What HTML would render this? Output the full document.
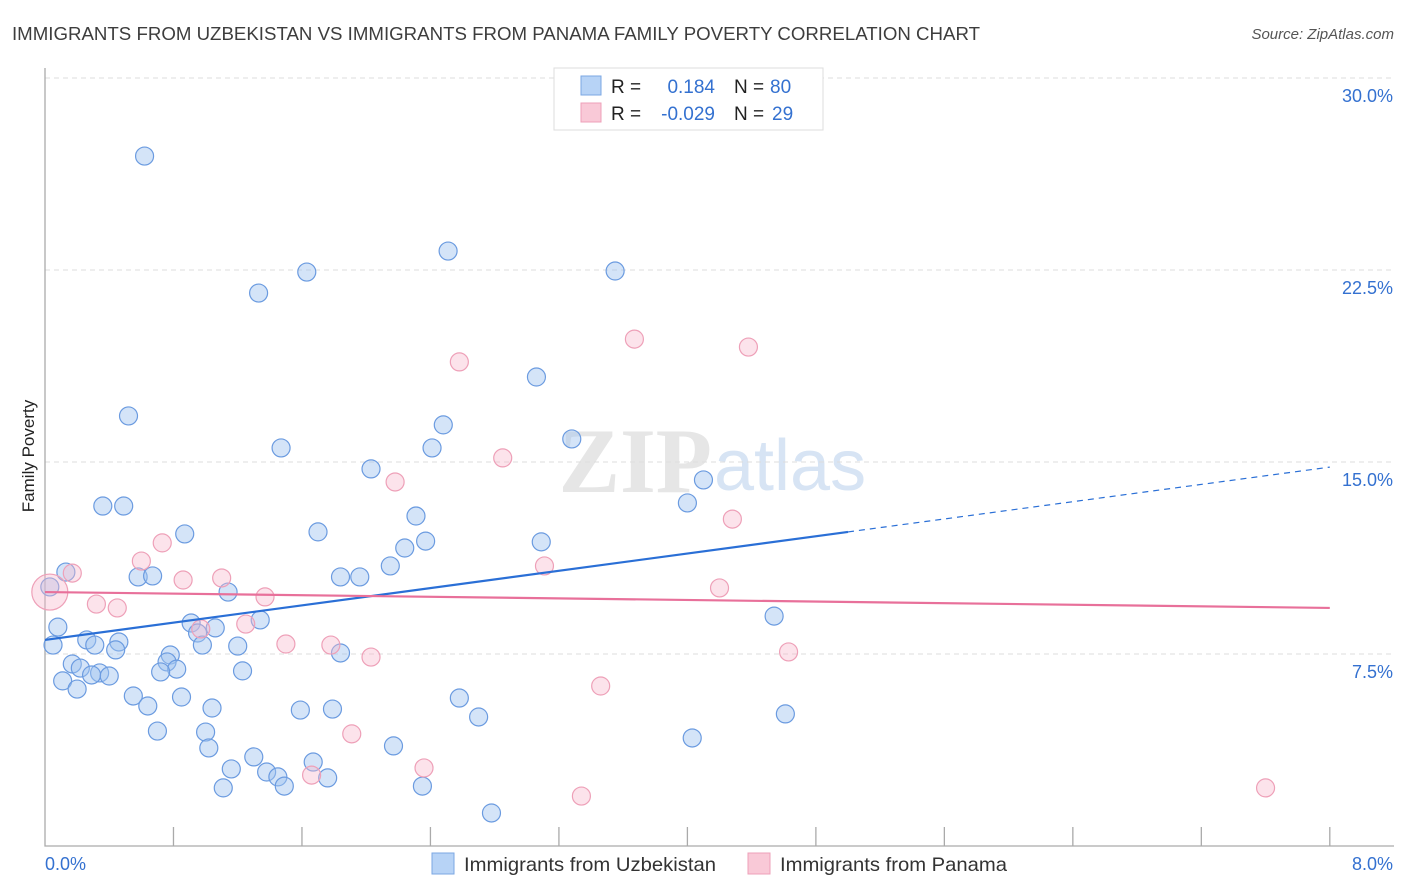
<!DOCTYPE html>
<html><head><meta charset="utf-8"><style>
body{margin:0;background:#fff;font-family:"Liberation Sans",sans-serif;}
svg{display:block}
</style></head><body>
<svg id="chart" width="1406" height="892">
<text x="12" y="40" font-size="18" fill="#3d3d3d" textLength="968" lengthAdjust="spacingAndGlyphs">IMMIGRANTS FROM UZBEKISTAN VS IMMIGRANTS FROM PANAMA FAMILY POVERTY CORRELATION CHART</text>
<text x="1394" y="39" font-size="15" fill="#555" font-style="italic" text-anchor="end">Source: ZipAtlas.com</text>
<text x="34" y="456" font-size="17" fill="#222" transform="rotate(-90 34 456)" text-anchor="middle">Family Poverty</text>
<g><text x="712" y="492" font-size="92" font-family="Liberation Serif,serif" fill="#e6e6e6" text-anchor="end" font-weight="bold">ZIP</text><text x="714" y="490" font-size="72" fill="#d7e4f4">atlas</text></g>
<g id="grid"></g><g id="axes"></g><g id="pts"></g><g id="trend"></g>
<g>
<rect x="554" y="68" width="269" height="62" fill="#fff" stroke="#ddd"/>
<rect x="581" y="76" width="20" height="19" fill="#b7d3f6" stroke="#7ba7e3"/>
<rect x="581" y="103" width="20" height="19" fill="#f9c9d7" stroke="#eea0b8"/>
<text x="611" y="93" font-size="19" fill="#222">R =</text><text x="715" y="93" font-size="19" fill="#3471d0" text-anchor="end">0.184</text>
<text x="734" y="93" font-size="19" fill="#222">N =</text><text x="770" y="93" font-size="19" fill="#3471d0">80</text>
<text x="611" y="120" font-size="19" fill="#222">R =</text><text x="715" y="120" font-size="19" fill="#3471d0" text-anchor="end">-0.029</text>
<text x="734" y="120" font-size="19" fill="#222">N =</text><text x="772" y="120" font-size="19" fill="#3471d0">29</text>
</g>
<g>
<rect x="432" y="853" width="22" height="21" fill="#b7d3f6" stroke="#7ba7e3"/>
<text x="464" y="871" font-size="19.5" fill="#333" textLength="252" lengthAdjust="spacingAndGlyphs">Immigrants from Uzbekistan</text>
<rect x="748" y="853" width="22" height="21" fill="#f9c9d7" stroke="#eea0b8"/>
<text x="780" y="871" font-size="19.5" fill="#333" textLength="227" lengthAdjust="spacingAndGlyphs">Immigrants from Panama</text>
</g>
</svg>
<script>
const blueX=[0.62,1.63,2.51,3.55,1.33,3.06,0.52,2.48,1.47,3.28,2.41,2.03,4.10,0.36,0.49,4.00,0.87,1.70,2.31,2.37,3.09,2.24,2.15,0.13,0.58,0.67,1.84,1.96,0.03,1.14,1.34,0.91,1.06,0.08,0.95,0.26,0.46,0.31,0.05,0.44,0.98,1.20,1.84,0.78,0.76,0.17,0.22,0.82,0.72,0.34,0.29,0.40,1.23,0.11,0.20,0.55,0.85,0.64,1.04,1.59,1.79,2.58,2.70,4.54,4.61,0.70,1.00,1.02,2.17,4.03,1.30,1.67,1.16,1.38,1.45,1.49,1.76,1.11,2.35,2.78];
const blueY=[26.95,22.42,23.24,22.46,21.6,18.32,16.8,16.45,15.55,15.9,15.55,14.73,14.3,13.28,13.28,13.4,12.19,12.27,12.89,11.91,11.88,11.64,10.94,10.7,10.51,10.55,10.51,10.51,10.12,9.92,8.83,8.71,8.52,8.55,8.32,8.05,7.97,7.85,7.85,7.66,7.85,7.81,7.54,7.46,7.19,7.11,6.95,6.91,6.80,6.76,6.68,6.64,6.84,6.45,6.13,5.86,5.82,5.47,5.39,5.31,5.35,5.78,5.04,8.98,5.16,4.49,4.45,3.83,3.91,4.22,3.48,3.28,3.01,2.89,2.70,2.34,2.66,2.27,2.34,1.29];
const pinkX=[0.03,0.17,0.73,0.60,0.86,1.10,0.32,0.45,1.37,1.25,0.97,1.50,1.78,2.03,1.91,2.18,2.58,2.85,3.67,4.38,4.28,3.11,4.20,4.63,3.46,2.36,1.66,3.34,7.60];
const pinkY=[9.92,10.66,11.84,11.13,10.39,10.47,9.45,9.30,9.73,8.67,8.48,7.89,7.85,7.38,4.38,14.22,18.91,15.16,19.80,19.49,12.77,10.94,10.08,7.58,6.25,3.05,2.77,1.95,2.27];
const pinkR=[18,9,9,9,9,9,9,9,9,9,9,9,9,9,9,9,9,9,9,9,9,9,9,9,9,9,9,9,9];
const yTicks=[7.5,15,22.5,30];
const yTickLabels=["7.5%","15.0%","22.5%","30.0%"];
const blueTrend=[8.05,14.8];
const pinkTrend=[9.92,9.30];
const NS="http://www.w3.org/2000/svg";
const X=v=>45+v*160.6, Y=v=>846-v*25.6;
function mk(tag,attrs,parent){const e=document.createElementNS(NS,tag);for(const k in attrs)e.setAttribute(k,attrs[k]);document.getElementById(parent).appendChild(e);return e;}
yTicks.forEach((t,i)=>{
 const g=mk('line',{x1:45,x2:1394,y1:Y(t),y2:Y(t),stroke:'#ddd','stroke-dasharray':'5,4'},'grid');
 
 
 const l=mk('text',{x:1393,y:Y(t)+24,'font-size':18,fill:'#3471d0','text-anchor':'end'},'axes');
 l.textContent=yTickLabels[i];
 
 
});
const ax=mk('path',{d:`M45,68 V${Y(0)} H1394`,fill:'none',stroke:'#aaa','stroke-width':1.3},'axes');


for(let i=1;i<=10;i++){const t=mk('line',{x1:X(i*0.8),x2:X(i*0.8),y1:Y(0),y2:Y(0)-19,stroke:'#aaa','stroke-width':1.3},'axes');
 
 }
const x0=mk('text',{x:45,y:870,'font-size':18,fill:'#3471d0'},'axes');x0.textContent='0.0%';


const x1=mk('text',{x:1393,y:870,'font-size':18,fill:'#3471d0','text-anchor':'end'},'axes');x1.textContent='8.0%';


blueX.forEach((v,i)=>{const c=mk('circle',{cx:X(v),cy:Y(blueY[i]),r:9,fill:'rgba(160,196,240,0.45)',stroke:'#6b9be0','stroke-width':1.2},'pts');
 
 });
pinkX.forEach((v,i)=>{const c=mk('circle',{cx:X(v),cy:Y(pinkY[i]),r:pinkR[i],fill:'rgba(247,185,205,0.4)',stroke:'#eea0b8','stroke-width':1.2},'pts');
 
 });
const bm=blueTrend[0]+(blueTrend[1]-blueTrend[0])*5/8;
const b1=mk('line',{x1:X(0),y1:Y(blueTrend[0]),x2:X(5),y2:Y(bm),stroke:'#2a6fd6','stroke-width':2.2},'trend');


const b2=mk('line',{x1:X(5),y1:Y(bm),x2:X(8),y2:Y(blueTrend[1]),stroke:'#2a6fd6','stroke-width':1.2,'stroke-dasharray':'6,5'},'trend');


const p1=mk('line',{x1:X(0),y1:Y(pinkTrend[0]),x2:X(8),y2:Y(pinkTrend[1]),stroke:'#e8709a','stroke-width':2.2},'trend');


</script>
</body></html>
